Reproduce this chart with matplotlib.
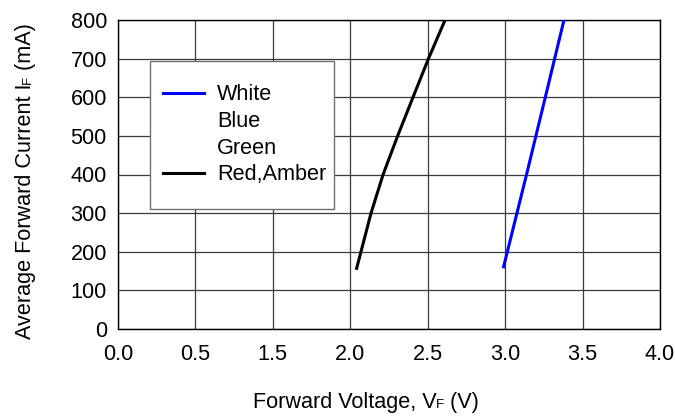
import matplotlib
matplotlib.use("Agg")
import matplotlib.pyplot as plt
from matplotlib.lines import Line2D
from matplotlib.patches import Rectangle

plt.rcParams['font.family'] = ['Liberation Sans', 'DejaVu Sans']

# Data (true voltage values; axis labels in reference skip "1.0")
red_v = [2.041, 2.069, 2.134, 2.212, 2.306, 2.405, 2.505, 2.612]
red_i = [157, 200, 300, 400, 500, 600, 700, 800]
white_v = [2.99, 3.14, 3.26, 3.38]
white_i = [161, 403, 601, 800]

xtick_pos = [0.5, 1.0, 1.5, 2.0, 2.5, 3.0, 3.5, 4.0]
xtick_labels = ['0.0', '0.5', '1.5', '2.0', '2.5', '3.0', '3.5', '4.0']
ytick_pos = [0, 100, 200, 300, 400, 500, 600, 700, 800]
legend_labels = ['White', 'Blue', 'Green', 'Red,Amber']

FS = 15.6
W, H = 675, 420
AX_L, AX_R, AX_T, AX_B = 118, 660, 20, 329
fig = plt.figure(figsize=(W/100, H/100), dpi=100)
ax = fig.add_axes([AX_L/W, 1 - AX_B/H, (AX_R-AX_L)/W, (AX_B-AX_T)/H])

ax.plot(white_v, white_i, color='#0000ff', lw=2.2, zorder=3)
ax.plot(red_v, red_i, color='black', lw=2.2, zorder=3, solid_joinstyle='round')

ax.set_xlim(0.5, 4.0)
ax.set_ylim(0, 800)
ax.set_xticks(xtick_pos)
ax.set_xticklabels(xtick_labels)
ax.set_yticks(ytick_pos)
ax.tick_params(axis='both', length=0, labelsize=FS)
ax.tick_params(axis='x', pad=11)
ax.tick_params(axis='y', pad=8)
ax.grid(True, color='#3a3a3a', lw=0.9)
ax.set_axisbelow(True)
for s in ax.spines.values():
    s.set_color('black')
    s.set_linewidth(1.0)

def ax_x(px):
    return (px - AX_L) / (AX_R - AX_L)

def ax_y(py):
    return (AX_B - py) / (AX_B - AX_T)

# legend box
box = Rectangle((ax_x(150), ax_y(209)), ax_x(334) - ax_x(150), ax_y(61) - ax_y(209),
                transform=ax.transAxes, facecolor='white', edgecolor='#707070',
                lw=1.0, zorder=4)
ax.add_patch(box)

handles = [Line2D([], [], color='#0000ff', lw=2.2),
           Line2D([], [], color='none'),
           Line2D([], [], color='none'),
           Line2D([], [], color='black', lw=2.2)]
leg = ax.legend(handles, legend_labels, loc='upper left',
                bbox_to_anchor=(ax_x(163), ax_y(84.5)),
                fontsize=FS, frameon=False, borderpad=0, labelspacing=0.26,
                handlelength=1.9, handletextpad=0.6, borderaxespad=0)
leg.set_zorder(5)

# Axis labels with small "F" subscript on baseline
fig.canvas.draw()
r = fig.canvas.get_renderer()

def xlabel_parts(parts, cx, by):
    texts = []
    for s, fs in parts:
        t = fig.text(0, 1 - by/H, s, fontsize=fs, ha='left', va='baseline')
        texts.append(t)
    widths = [t.get_window_extent(r).width for t in texts]
    total = sum(widths)
    x = cx - total/2
    for t, w in zip(texts, widths):
        t.set_position((x/W, 1 - by/H))
        x += w

def ylabel_parts(parts, bx, cy):
    texts = []
    for s, fs in parts:
        t = fig.text(bx/W, 0, s, fontsize=fs, ha='left', va='baseline',
                     rotation=90, rotation_mode='anchor')
        texts.append(t)
    heights = [t.get_window_extent(r).height for t in texts]
    total = sum(heights)
    y = cy + total/2
    for t, h in zip(texts, heights):
        t.set_position((bx/W, 1 - y/H))
        y -= h

xlabel_parts([('Forward Voltage, V', FS), ('F', 9.5), (' (V)', FS)], 366, 408)
ylabel_parts([('Average Forward Current I', FS), ('F', 9.5), (' (mA)', FS)], 31, 181)

fig.savefig('out.png', dpi=100)
